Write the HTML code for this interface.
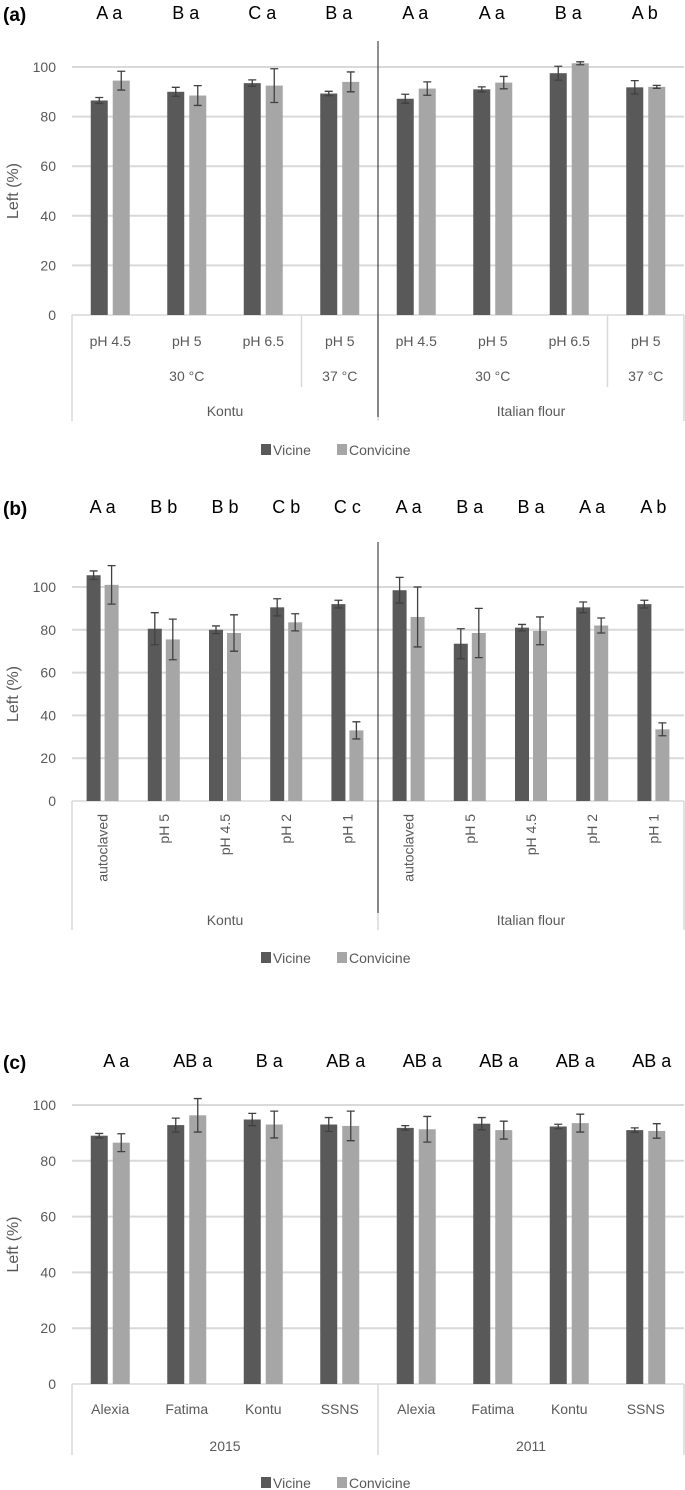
<!DOCTYPE html>
<html><head><meta charset="utf-8"><style>
html,body{margin:0;padding:0;background:#fff}
svg{display:block}
text{font-family:"Liberation Sans",sans-serif}
</style></head><body>
<svg id="fig" width="685" height="1490" viewBox="0 0 685 1490" xmlns="http://www.w3.org/2000/svg"></svg>
<script>
// Panel (a)
const aCats = ["pH 4.5","pH 5","pH 6.5","pH 5","pH 4.5","pH 5","pH 6.5","pH 5"];
const aVicine = [86.5,90,93.5,89.3,87.2,91,97.5,91.8];
const aVicineErr = [1.2,1.8,1.3,0.9,1.8,1,2.8,2.7];
const aConvicine = [94.5,88.5,92.5,94,91.3,93.7,101.5,92];
const aConvicineErr = [3.8,4,6.8,4,2.7,2.5,0.6,0.6];
const aLetters = ["A a","B a","C a","B a","A a","A a","B a","A b"];
// Panel (b)
const bCats = ["autoclaved","pH 5","pH 4.5","pH 2","pH 1","autoclaved","pH 5","pH 4.5","pH 2","pH 1"];
const bVicine = [105.5,80.5,80,90.5,92,98.5,73.5,81,90.5,92];
const bVicineErr = [2,7.5,1.8,4,1.8,6,7,1.5,2.5,1.8];
const bConvicine = [101,75.5,78.5,83.5,33,86,78.5,79.5,82,33.5];
const bConvicineErr = [9,9.5,8.5,4,4,14,11.5,6.5,3.5,3];
const bLetters = ["A a","B b","B b","C b","C c","A a","B a","B a","A a","A b"];
// Panel (c)
const cCats = ["Alexia","Fatima","Kontu","SSNS","Alexia","Fatima","Kontu","SSNS"];
const cVicine = [89,92.8,94.8,93,91.8,93.3,92.3,91];
const cVicineErr = [0.8,2.5,2.2,2.5,0.8,2.2,0.8,0.8];
const cConvicine = [86.5,96.3,93,92.5,91.3,91,93.5,90.7];
const cConvicineErr = [3.2,6,4.8,5.3,4.6,3.2,3.2,2.6];
const cLetters = ["A  a","AB a","B  a","AB a","AB a","AB a","AB a","AB a"];
const yTicks = [0,20,40,60,80,100];

const NS="http://www.w3.org/2000/svg";
const svg=document.getElementById('fig');
function mk(tag,attrs,parent,txt){const e=document.createElementNS(NS,tag);for(const k in attrs)e.setAttribute(k,attrs[k]);if(txt!==undefined)e.textContent=txt;(parent||svg).appendChild(e);return e;}

function panel(o){
  const g=mk('g',{});
  
  
  const L=72,R=684,n=o.cats.length,cw=(R-L)/n;
  const y=v=>o.y0-(o.y0-o.y100)*v/100;
  const xc=i=>L+cw*(i+0.5);
  yTicks.forEach(t=>{
    if(t>0){const gl=mk('line',{x1:L,x2:R,y1:y(t),y2:y(t),stroke:'#d9d9d9','stroke-width':2},g);
      }
    const tl=mk('text',{x:56,y:y(t)+5,'text-anchor':'end','font-size':14,fill:'#595959'},g,String(t));
    
  });
  const yt=mk('text',{transform:`translate(18,${(o.y0+o.y100)/2}) rotate(-90)`,'text-anchor':'middle','font-size':16,fill:'#595959'},g,'Left (%)');
  
  mk('line',{x1:L,x2:R,y1:o.y0,y2:o.y0,stroke:'#d9d9d9','stroke-width':1.5},g);
  const series=[[o.vic,o.vicE,'#595959',-1],[o.con,o.conE,'#a6a6a6',1]];
  for(let i=0;i<n;i++){
    series.forEach((s,si)=>{
      const v=s[0][i],e=s[1][i];
      const x=si===0?xc(i)-o.gap/2-o.bw:xc(i)+o.gap/2;
      const b=mk('rect',{x:x,y:y(v),width:o.bw,height:o.y0-y(v),fill:s[2]},g);
      
      
      const cx=x+o.bw/2;
      const eb=mk('path',{d:`M${cx},${y(v+e)}V${y(v-e)}M${cx-4},${y(v+e)}H${cx+4}M${cx-4},${y(v-e)}H${cx+4}`,stroke:'#404040','stroke-width':1.3,fill:'none'},g);
      
    });
    let lt;
    if(o.rot){lt=mk('text',{transform:`translate(${xc(i)+5},${o.y0+13}) rotate(-90)`,'text-anchor':'end','font-size':14,fill:'#595959'},g,o.cats[i]);}
    else{lt=mk('text',{x:xc(i),y:o.row1,'text-anchor':'middle','font-size':14,fill:'#595959'},g,o.cats[i]);}
    
    const sl=mk('text',{x:xc(i)+o.letShift,y:o.letY,'text-anchor':'middle','font-size':18,fill:'#000','xml:space':'preserve'},g,o.letters[i]);
    
  }
  o.vlines.forEach(v=>mk('line',{x1:L+cw*v[0],x2:L+cw*v[0],y1:o.y0,y2:v[1],stroke:'#d9d9d9','stroke-width':1.5},g));
  o.subgroups.forEach(s=>{const t=mk('text',{x:L+cw*s[0],y:s[2],'text-anchor':'middle','font-size':14,fill:'#595959'},g,s[1]);
    });
  if(o.sep){const sp=mk('line',{x1:L+cw*n/2,x2:L+cw*n/2,y1:o.sep[0],y2:o.sep[1],stroke:'#222','stroke-width':1},g);
    }
  const pl=mk('text',{x:3,y:o.letY+2,'font-size':19,'font-weight':'bold',fill:'#000'},g,o.label);
  
  const lg=mk('g',{},g);
  mk('rect',{x:261,y:o.legY-11,width:10,height:11,fill:'#595959'},lg);
  const l1=mk('text',{x:273,y:o.legY,'font-size':14,fill:'#595959'},lg,'Vicine');
  
  mk('rect',{x:337,y:o.legY-11,width:10,height:11,fill:'#a6a6a6'},lg);
  const l2=mk('text',{x:349,y:o.legY,'font-size':14,fill:'#595959'},lg,'Convicine');
  
}

panel({name:'panel-a',label:'(a)',cats:aCats,vic:aVicine,vicE:aVicineErr,con:aConvicine,conE:aConvicineErr,letters:aLetters,
  y0:315,y100:67,bw:17,gap:5,row1:346,letY:19,letShift:-1,legY:455,sep:[41,417],
  vlines:[[0,421],[3,387],[4,421],[7,387],[8,421]],
  subgroups:[[1.5,'30 °C',381],[3.5,'37 °C',381],[5.5,'30 °C',381],[7.5,'37 °C',381],[2,'Kontu',416],[6,'Italian flour',416]]});
panel({name:'panel-b',label:'(b)',cats:bCats,vic:bVicine,vicE:bVicineErr,con:bConvicine,conE:bConvicineErr,letters:bLetters,
  y0:801,y100:587,bw:14,gap:4,rot:true,letY:513,letShift:0,legY:963,sep:[542,913],
  vlines:[[0,930],[5,930],[10,930]],
  subgroups:[[2.5,'Kontu',925],[7.5,'Italian flour',925]]});
panel({name:'panel-c',label:'(c)',cats:cCats,vic:cVicine,vicE:cVicineErr,con:cConvicine,conE:cConvicineErr,letters:cLetters,
  y0:1384,y100:1105,bw:17,gap:5,row1:1414,letY:1067,letShift:6,legY:1488,
  vlines:[[0,1455],[4,1455],[8,1455]],
  subgroups:[[2,'2015',1451],[6,'2011',1451]]});
</script>
</body></html>
